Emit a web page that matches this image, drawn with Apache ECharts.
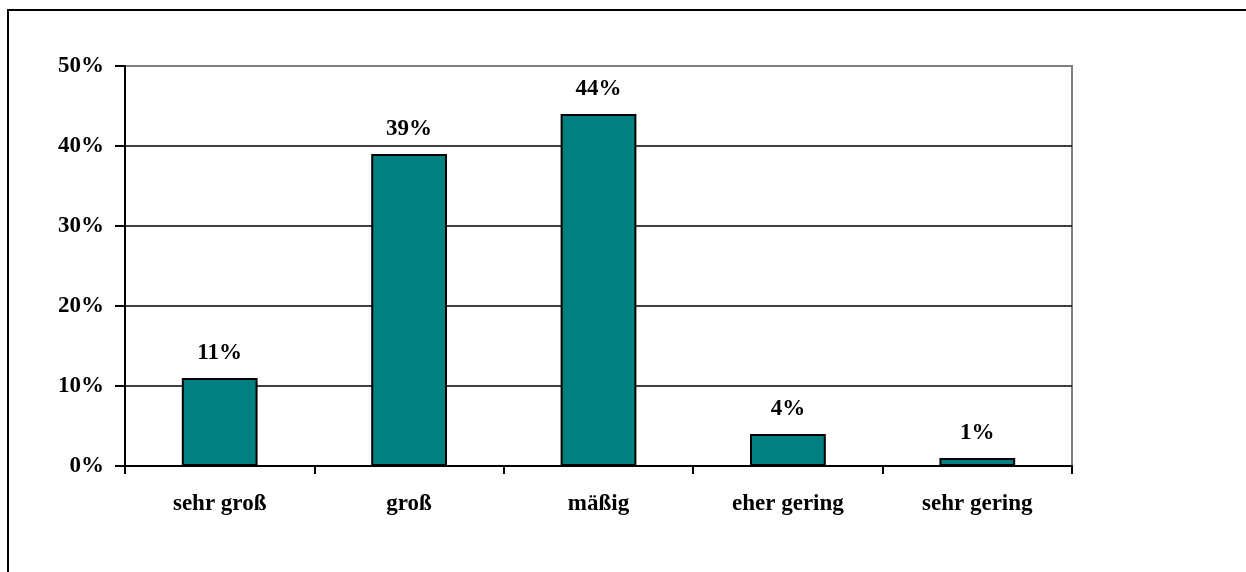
<!DOCTYPE html>
<html><head><meta charset="utf-8">
<script src="https://cdn.jsdelivr.net/npm/echarts@6/dist/echarts.min.js"></script>
<style>html,body{margin:0;padding:0;background:#fff}#c{width:1246px;height:572px}</style>
</head><body><div id="c"></div>
<script>
const categories = ['sehr groß', 'groß', 'mäßig', 'eher gering', 'sehr gering'];
const values = [11, 39, 44, 4, 1];
const yTicks = [0, 10, 20, 30, 40, 50];

const font = '"Liberation Serif", "Times New Roman", serif';
const chart = echarts.init(document.getElementById('c'), null, {renderer: 'canvas'});
chart.setOption({
  animation: false,
  backgroundColor: '#fff',
  graphic: [{
    type: 'rect', shape: {x: 8, y: 10, width: 1260, height: 600},
    style: {fill: 'none', stroke: '#000', lineWidth: 2}, silent: true
  }],
  grid: {left: 125, right: 174, top: 66, bottom: 106, show: true,
         borderColor: '#808080', borderWidth: 2, backgroundColor: 'transparent'},
  xAxis: {
    type: 'category', data: categories,
    axisLine: {lineStyle: {color: '#000', width: 2}},
    axisTick: {show: true, length: 8, lineStyle: {color: '#000', width: 2}},
    axisLabel: {margin: 27, color: '#000', fontFamily: font, fontWeight: 'bold', fontSize: 23}
  },
  yAxis: {
    type: 'value', min: yTicks[0], max: yTicks[yTicks.length - 1], interval: 10,
    axisLine: {show: true, lineStyle: {color: '#000', width: 2}},
    axisTick: {show: true, length: 10, lineStyle: {color: '#000', width: 2}},
    axisLabel: {margin: 21, color: '#000', fontFamily: font, fontWeight: 'bold', fontSize: 23,
                formatter: v => v + '%'},
    splitLine: {show: true, lineStyle: {color: ['#000', '#000', '#000', '#000', '#000', '#808080'], width: 1.5}}
  },
  series: [{
    type: 'bar', data: values, barWidth: '40%',
    itemStyle: {color: '#008080', borderColor: '#000', borderWidth: 2},
    label: {show: true, position: 'top', distance: 13, color: '#000', fontFamily: font,
            fontWeight: 'bold', fontSize: 23, formatter: p => p.value + '%'}
  }]
});
</script></body></html>
